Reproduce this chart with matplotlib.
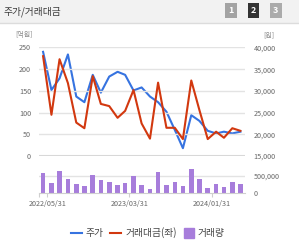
import numpy as np
import pandas as pd
import matplotlib
matplotlib.use('Agg')
import matplotlib.pyplot as plt
import matplotlib.dates as mdates
from matplotlib.patches import Rectangle
from matplotlib.ticker import FuncFormatter

plt.rcParams['font.family'] = ['Noto Sans CJK KR', 'DejaVu Sans']

# monthly data, 2022/05 .. 2024/05
months = pd.date_range('2022-05-01', periods=25, freq='MS') + pd.Timedelta(days=14)

# 거래대금 (억원, left axis)
trade_value = [230, 95, 223, 168, 77, 64, 184, 120, 115, 88, 104, 152, 75,
               40, 169, 65, 65, 39, 174, 106, 39, 56, 42, 64, 58]
# 주가 (원, right axis)
price = [39000, 30200, 32900, 38400, 28700, 27400, 33700, 29600, 33300, 34400,
         33700, 30100, 30800, 28700, 27400, 25200, 21000, 16800, 24400, 23100,
         20800, 20200, 20600, 20200, 20600]
# 거래량
volume = [568000, 284000, 642000, 406000, 264000, 207000, 520000, 386000,
          330000, 236000, 284000, 491000, 236000, 122000, 597000, 236000,
          312000, 207000, 690000, 406000, 159000, 264000, 188000, 312000, 264000]

tick_dates = pd.to_datetime(['2022-05-31', '2023-03-31', '2024-01-31'])
tick_labels = ['2022/05/31', '2023/03/31', '2024/01/31']

blue = '#3673e0'
red = '#d2380f'
purple = '#a77ddb'
grid_c = '#e3e3e3'
txt_c = '#666666'

W, H = 299, 247
fig = plt.figure(figsize=(W / 100, H / 100), dpi=100)
fig.patch.set_facecolor('white')

def fx(px):
    return px / W

def fy(py):
    return 1 - py / H

# header
fig.patches.append(Rectangle((0, fy(23.5)), 1, 1 - fy(23.5), transform=fig.transFigure,
                             facecolor='#f2f2f2', edgecolor='none', zorder=0))
fig.lines.append(plt.Line2D([0, 1], [fy(23.5), fy(23.5)], transform=fig.transFigure,
                            color='#dcdcdc', lw=1))
fig.text(fx(4), fy(11.5), '주가/거래대금', fontsize=7, color='#3a3a3a', va='center', ha='left')
for lbl, x0, c in [('1', 225, '#a3a3a3'), ('2', 247.7, '#333333'), ('3', 270, '#ababab')]:
    fig.patches.append(Rectangle((fx(x0), fy(18)), fx(11.5), fy(3.5) - fy(18),
                                 transform=fig.transFigure, facecolor=c, edgecolor='none'))
    fig.text(fx(x0 + 5.75), fy(10.8), lbl, fontsize=6.5, color='white', fontweight='bold',
             ha='center', va='center')

fig.text(fx(24.5), fy(35), '[억원]', fontsize=5, color='#888888', ha='center', va='center')
fig.text(fx(269), fy(35), '[원]', fontsize=5, color='#888888', ha='center', va='center')

xmin = pd.Timestamp('2022-05-01')
xmax = pd.Timestamp('2024-06-01')

# main chart
ax = fig.add_axes([fx(39.3), fy(156), fx(245) - fx(39.3), fy(47.5) - fy(156)])
ax.set_xlim(xmin, xmax)
ax.set_ylim(0, 250)
ax.set_yticks([0, 50, 100, 150, 200, 250])
ax.grid(axis='y', color=grid_c, lw=1)
ax.axhline(0, color='#d6d6d6', lw=2.2, zorder=1)
ax.set_xticks([])
for s in ax.spines.values():
    s.set_visible(False)
ax.tick_params(axis='y', length=0, pad=6, labelsize=5.2, labelcolor=txt_c)
ax.plot(months, trade_value, color=red, lw=1.5, zorder=3, clip_on=False)

ax2 = ax.twinx()
ax2.set_ylim(15000, 40000)
ax2.set_yticks(range(15000, 40001, 5000))
ax2.yaxis.set_major_formatter(FuncFormatter(lambda v, p: f'{int(v):,}'))
for s in ax2.spines.values():
    s.set_visible(False)
ax2.tick_params(axis='y', length=0, pad=6, labelsize=5.2, labelcolor=txt_c)
ax2.plot(months, price, color=blue, lw=1.5, zorder=2, clip_on=False)
ax.set_zorder(ax2.get_zorder() + 1)
ax.patch.set_visible(False)

# volume chart
axv = fig.add_axes([fx(39.3), fy(193.3), fx(245) - fx(39.3), fy(168.7) - fy(193.3)])
axv.bar(months, volume, width=17, color=purple, zorder=2)
axv.set_xlim(xmin, xmax)
axv.set_ylim(0, 700000)
axv.yaxis.tick_right()
axv.set_yticks([0, 500000])
axv.yaxis.set_major_formatter(FuncFormatter(lambda v, p: f'{int(v):,}'))
axv.axhline(500000, color=grid_c, lw=1, zorder=1)
for k, s in axv.spines.items():
    s.set_visible(k == 'bottom')
axv.spines['bottom'].set_color('#cfcfcf')
axv.set_xticks(list(tick_dates) + [xmin])
axv.set_xticklabels(tick_labels + [''])
axv.tick_params(axis='x', length=3, color='#cfcfcf', pad=2, labelsize=5.2, labelcolor=txt_c)
axv.tick_params(axis='y', length=0, pad=6, labelsize=5.2, labelcolor=txt_c)

# legend
handles = [plt.Line2D([], [], color=blue, lw=1.5),
           plt.Line2D([], [], color=red, lw=1.5),
           plt.Line2D([], [], color=purple, lw=0, marker='s', markersize=6.5)]
fig.legend(handles, ['주가', '거래대금(좌)', '거래량'], loc='center', ncol=3,
           bbox_to_anchor=(0.495, fy(233)), frameon=False, fontsize=7,
           handlelength=1.1, handletextpad=0.4, columnspacing=0.7,
           labelcolor='#444444')

fig.savefig('out.png', dpi=100)
